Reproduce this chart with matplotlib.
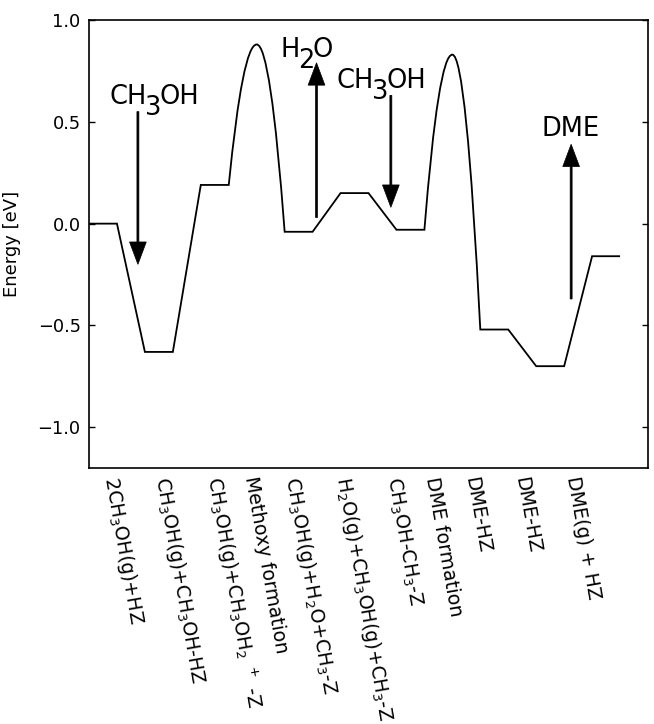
import matplotlib
matplotlib.use("Agg")
import matplotlib.pyplot as plt
from matplotlib.path import Path
from matplotlib.patches import PathPatch

# plateau energies (eV); each plateau is one unit wide on the reaction coordinate
LEVEL_START = [0, 2, 4, 7, 9, 11, 14, 16, 18]
LEVEL_E = [0.0, -0.63, 0.19, -0.04, 0.15, -0.03, -0.52, -0.70, -0.16]

# transition states: index of the plateau before the barrier, peak energy
TS_AFTER = [2, 5]
TS_E = [0.88, 0.83]

STEP_LABELS = [
    "2CH$_3$OH(g)+HZ",
    "CH$_3$OH(g)+CH$_3$OH-HZ",
    "CH$_3$OH(g)+CH$_3$OH$_2$ $^+$ -Z",
    "Methoxy formation",
    "CH$_3$OH(g)+H$_2$O+CH$_3$-Z",
    "H$_2$O(g)+CH$_3$OH(g)+CH$_3$-Z",
    "CH$_3$OH-CH$_3$-Z",
    "DME formation",
    "DME-HZ",
    "DME-HZ",
    "DME(g) + HZ",
]
TICK_POS = [0.35, 2.2, 4.0, 5.45, 6.85, 8.65, 10.5, 11.9, 13.3, 15.1, 16.95]

# gas phase adsorption / desorption arrows
# label pieces: every second piece is the (lowered) subscript
ARROW_LABELS = [["CH", "3", "OH"], ["H", "2", "O"], ["CH", "3", "OH"], ["DME"]]
LABEL_X = [0.75, 6.86, 8.86, 16.2]
LABEL_Y = [0.588, 0.817, 0.665, 0.43]
ARROW_X = [1.75, 8.14, 10.8, 17.25]
ARROW_FROM = [0.55, 0.03, 0.63, -0.37]
ARROW_TO = [-0.20, 0.79, 0.08, 0.39]


def profile_path():
    verts = [(LEVEL_START[0], LEVEL_E[0]), (LEVEL_START[0] + 1, LEVEL_E[0])]
    codes = [Path.MOVETO, Path.LINETO]
    for i in range(1, len(LEVEL_E)):
        if i - 1 in TS_AFTER:
            peak = TS_E[TS_AFTER.index(i - 1)]
            x0 = LEVEL_START[i - 1] + 1
            x1 = LEVEL_START[i]
            xm = (x0 + x1) / 2.0
            # two half parabolas meeting at the TS
            verts += [((x0 + xm) / 2.0, peak), (xm, peak),
                      ((xm + x1) / 2.0, peak), (x1, LEVEL_E[i])]
            codes += [Path.CURVE3] * 4
        else:
            verts.append((LEVEL_START[i], LEVEL_E[i]))
            codes.append(Path.LINETO)
        verts.append((LEVEL_START[i] + 1, LEVEL_E[i]))
        codes.append(Path.LINETO)
    return Path(verts, codes)


def chem_text(ax, x, y, parts, size=18.5, drop=8):
    base = ax.text(x, y, parts[0], fontsize=size, ha="left", va="baseline")
    prev = base
    for k, s in enumerate(parts[1:], start=1):
        dy = -drop if k % 2 == 1 else 0
        prev = ax.annotate(s, xy=(1, 0), xycoords=(prev, base),
                           xytext=(-1.5, dy), textcoords="offset points",
                           fontsize=size, ha="left", va="bottom")


fig = plt.figure(figsize=(6.54, 7.24), dpi=100)
ax = fig.add_axes([89 / 654, 1 - 468 / 724, 559 / 654, 448 / 724])

ax.add_patch(PathPatch(profile_path(), fill=False, edgecolor="black", linewidth=1.3))

for parts, lx, ly, x, y0, y1 in zip(ARROW_LABELS, LABEL_X, LABEL_Y,
                                    ARROW_X, ARROW_FROM, ARROW_TO):
    chem_text(ax, lx, ly, parts)
    ax.arrow(x, y0, 0, y1 - y0, width=0.07, head_width=0.6, head_length=0.11,
             length_includes_head=True, fc="black", ec="black", lw=0.5)

ax.set_xlim(0, 20)
ax.set_ylim(-1.2, 1.0)
ax.set_yticks([-1.0, -0.5, 0.0, 0.5, 1.0])
ax.set_yticklabels(["\u22121.0", "\u22120.5", "0.0", "0.5", "1.0"])
ax.yaxis.set_ticks_position("both")
ax.tick_params(axis="y", direction="in", length=4, width=1, pad=6, labelsize=12.8)
ax.set_xticks(TICK_POS)
ax.set_xticklabels(STEP_LABELS, rotation=-80, ha="left", fontsize=13.7)
ax.tick_params(axis="x", length=0, pad=5)
ax.set_ylabel("Energy [eV]", fontsize=13)
ax.yaxis.set_label_coords(-0.122, 0.5)
for sp in ax.spines.values():
    sp.set_linewidth(1.2)

fig.savefig("out.png", dpi=100)
